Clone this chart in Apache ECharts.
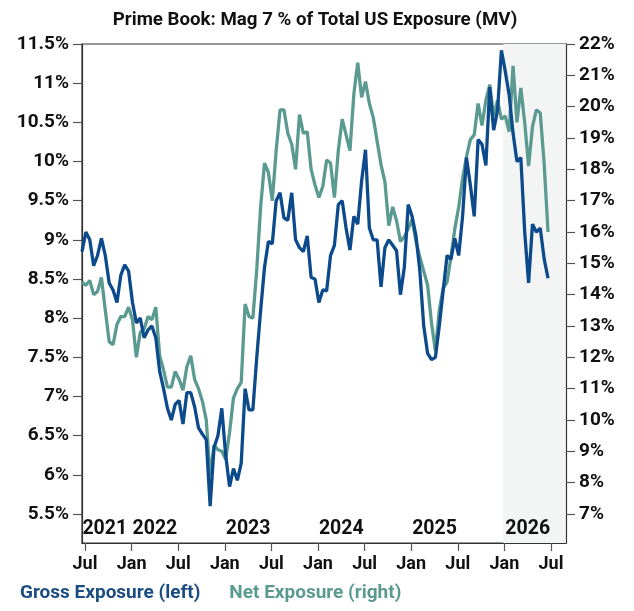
<!doctype html>
<html>
    <head>
        <meta charset="utf-8">
        <title>Prime Book: Mag 7 % of Total US Exposure</title>
        <style>
            html, body { margin: 0; padding: 0; background: #fff; }
            #main { width: 634px; height: 611px; }
        </style>
    </head>
    <body>
        <div id="main"></div>
        <script src="https://cdn.jsdelivr.net/npm/echarts@6/dist/echarts.min.js"></script>
        <script>
            // x values are months counted from Jan 2021 (Jul 2021 = 6, Jan 2026 = 60)
            var startMonth = 5.614;
            var stepMonths = 0.5;

            var monthTickPos = [6, 12, 18, 24, 30, 36, 42, 48, 54, 60, 66];
            var monthTickLabels = ['Jul', 'Jan', 'Jul', 'Jan', 'Jul', 'Jan', 'Jul', 'Jan', 'Jul', 'Jan', 'Jul'];
            var yearLabelPos = [8.55, 15, 27, 39, 51, 63];
            var yearLabels = ['2021', '2022', '2023', '2024', '2025', '2026'];

            var leftTicks = [5.5, 6, 6.5, 7, 7.5, 8, 8.5, 9, 9.5, 10, 10.5, 11, 11.5];
            var rightTicks = [7, 8, 9, 10, 11, 12, 13, 14, 15, 16, 17, 18, 19, 20, 21, 22];

            // shaded recent period (from end of Dec 2025)
            var shadeStart = 59.85;

            // Gross Exposure (left axis), %
            var gross = [
                8.85, 9.1, 9.0, 8.67, 8.8, 9.02, 8.8, 8.45, 8.36, 8.2,
                8.55, 8.68, 8.6, 8.2, 7.94, 8.0, 7.75, 7.85, 7.9, 7.75,
                7.32, 7.1, 6.85, 6.7, 6.9, 6.95, 6.65, 7.05, 7.05, 6.87,
                6.6, 6.52, 6.45, 5.6, 6.35, 6.5, 6.85, 6.25, 5.85, 6.08,
                5.93, 6.15, 7.1, 6.83, 6.83, 7.5, 8.1, 8.65, 8.98, 8.95,
                9.5, 9.6, 9.28, 9.25, 9.6, 9.0, 8.9, 8.85, 9.05, 8.52,
                8.5, 8.2, 8.36, 8.35, 8.8, 8.93, 9.45, 9.5, 9.15, 8.87,
                9.3, 9.2, 9.75, 10.15, 9.15, 9.0, 9.0, 8.4, 8.9, 9.0,
                8.93, 8.86, 8.3, 8.65, 9.45, 9.3, 9.05, 8.6, 7.9, 7.55,
                7.47, 7.5, 7.9, 8.35, 8.8, 8.75, 9.02, 8.8, 9.3, 10.05,
                9.7, 9.3, 10.28, 10.22, 9.95, 10.95, 10.4, 10.65, 11.42, 11.15,
                10.85, 10.36, 10.0, 10.05, 9.1, 8.45, 9.2, 9.1, 9.15, 8.76,
                8.51
            ];

            // Net Exposure (right axis), %
            var net = [
                14.4, 14.3, 14.45, 14.0, 14.1, 14.55, 13.5, 12.5, 12.4, 13.05,
                13.3, 13.3, 13.6, 13.2, 12.0, 12.8, 12.9, 13.3, 13.2, 13.6,
                12.05, 11.6, 11.05, 11.05, 11.55, 11.3, 10.95, 11.7, 12.05, 11.3,
                11.0, 10.6, 10.0, 8.2, 9.2, 9.05, 9.0, 8.75, 9.6, 10.7,
                11.0, 11.2, 13.7, 13.3, 13.25, 14.8, 16.8, 18.2, 17.9, 17.0,
                18.6, 19.9, 19.9, 19.15, 18.8, 18.0, 19.75, 19.15, 19.2, 18.0,
                17.5, 17.1, 17.45, 18.3, 18.2, 17.1, 18.6, 19.6, 19.1, 18.6,
                20.4, 21.4, 20.3, 20.8, 20.1, 19.65, 18.9, 18.15, 17.6, 16.2,
                16.8, 16.36, 15.7, 15.85, 16.1, 16.4, 15.7, 15.2, 14.75, 14.3,
                13.1, 12.2, 13.5, 14.2, 14.4, 15.2, 16.1, 16.8, 17.7, 18.4,
                18.95, 19.1, 20.1, 19.4, 20.2, 20.7, 19.7, 20.2, 19.6, 19.7,
                19.2, 21.3, 19.5, 20.6, 19.5, 18.1, 19.36, 19.9, 19.8, 18.2,
                16.0
            ];

            var xMin = 5.614, xMax = 67.93;
            var leftMin = 5.13, leftMax = 11.5;
            var rightMin = 6.074, rightMax = 22;

            var grossColor = '#0c4a8c';
            var netColor = '#5b9a90';
            var font = 'Roboto, sans-serif';

            function toPoints(values) {
                return values.map(function (v, i) {
                    return [startMonth + i * stepMonths, v];
                });
            }

            var chart = echarts.init(document.getElementById('main'), null, {renderer: 'canvas'});

            chart.setOption({
                animation: false,
                title: {
                    text: 'Prime Book: Mag 7 % of Total US Exposure (MV)',
                    left: 310,
                    textAlign: 'center',
                    top: 6,
                    textStyle: {
                        fontFamily: font,
                        fontWeight: 'bold',
                        fontSize: 18.7,
                        color: '#111'
                    }
                },
                legend: {
                    left: 10,
                    top: 579,
                    icon: 'none',
                    itemWidth: 0,
                    itemGap: 24,
                    textStyle: {
                        fontFamily: font,
                        fontWeight: 'bold',
                        fontSize: 19
                    },
                    data: [
                        {name: 'Gross Exposure (left)', textStyle: {color: '#1b4c82'}},
                        {name: 'Net Exposure (right)', textStyle: {color: netColor}}
                    ]
                },
                grid: {
                    left: 82,
                    right: 68,
                    top: 44,
                    bottom: 68,
                    show: true,
                    borderColor: '#333',
                    borderWidth: 1.2
                },
                xAxis: [
                    {
                        type: 'value',
                        min: xMin,
                        max: xMax,
                        position: 'bottom',
                        splitLine: {show: false},
                        axisLine: {lineStyle: {color: '#333', width: 1.2}},
                        axisTick: {
                            customValues: monthTickPos,
                            length: 8,
                            lineStyle: {color: '#555', width: 1.2}
                        },
                        axisLabel: {
                            customValues: monthTickPos,
                            margin: 12,
                            fontFamily: font,
                            fontWeight: 'bold',
                            fontSize: 18,
                            color: '#111',
                            formatter: function (v) {
                                return monthTickLabels[monthTickPos.indexOf(v)];
                            }
                        }
                    },
                    {
                        type: 'value',
                        min: xMin,
                        max: xMax,
                        position: 'bottom',
                        z: 10,
                        splitLine: {show: false},
                        axisLine: {show: false},
                        axisTick: {show: false},
                        axisLabel: {
                            inside: true,
                            customValues: yearLabelPos,
                            margin: 4,
                            fontFamily: font,
                            fontWeight: 'bold',
                            fontSize: 19.5,
                            color: '#111',
                            formatter: function (v) {
                                return yearLabels[yearLabelPos.indexOf(v)];
                            }
                        }
                    }
                ],
                yAxis: [
                    {
                        type: 'value',
                        position: 'left',
                        min: leftMin,
                        max: leftMax,
                        splitLine: {show: false},
                        axisLine: {show: true, lineStyle: {color: '#333', width: 1.2}},
                        axisTick: {
                            show: true,
                            customValues: leftTicks,
                            length: 9,
                            lineStyle: {color: '#555', width: 1.2}
                        },
                        axisLabel: {
                            customValues: leftTicks,
                            margin: 13,
                            fontFamily: font,
                            fontWeight: 'bold',
                            fontSize: 19,
                            color: '#111',
                            formatter: function (v) { return v + '%'; }
                        }
                    },
                    {
                        type: 'value',
                        position: 'right',
                        min: rightMin,
                        max: rightMax,
                        z: 10,
                        splitLine: {show: false},
                        axisLine: {show: true, lineStyle: {color: '#333', width: 1.2}},
                        axisTick: {
                            show: true,
                            customValues: rightTicks,
                            length: 9,
                            lineStyle: {color: '#555', width: 1.2}
                        },
                        axisLabel: {
                            customValues: rightTicks,
                            margin: 13,
                            fontFamily: font,
                            fontWeight: 'bold',
                            fontSize: 19,
                            color: '#111',
                            formatter: function (v) { return v + '%'; }
                        }
                    }
                ],
                series: [
                    {
                        name: 'Net Exposure (right)',
                        type: 'line',
                        xAxisIndex: 0,
                        yAxisIndex: 1,
                        showSymbol: false,
                        color: netColor,
                        lineStyle: {width: 3.3, color: netColor},
                        data: toPoints(net),
                        markArea: {
                            silent: true,
                            itemStyle: {color: '#f3f4f4'},
                            data: [[{xAxis: shadeStart}, {xAxis: xMax}]]
                        }
                    },
                    {
                        name: 'Gross Exposure (left)',
                        type: 'line',
                        xAxisIndex: 0,
                        yAxisIndex: 0,
                        showSymbol: false,
                        color: grossColor,
                        lineStyle: {width: 3.3, color: grossColor},
                        data: toPoints(gross)
                    }
                ]
            });

            window.addEventListener('resize', function () {
                chart.resize();
            });
        </script>
    </body>
</html>
